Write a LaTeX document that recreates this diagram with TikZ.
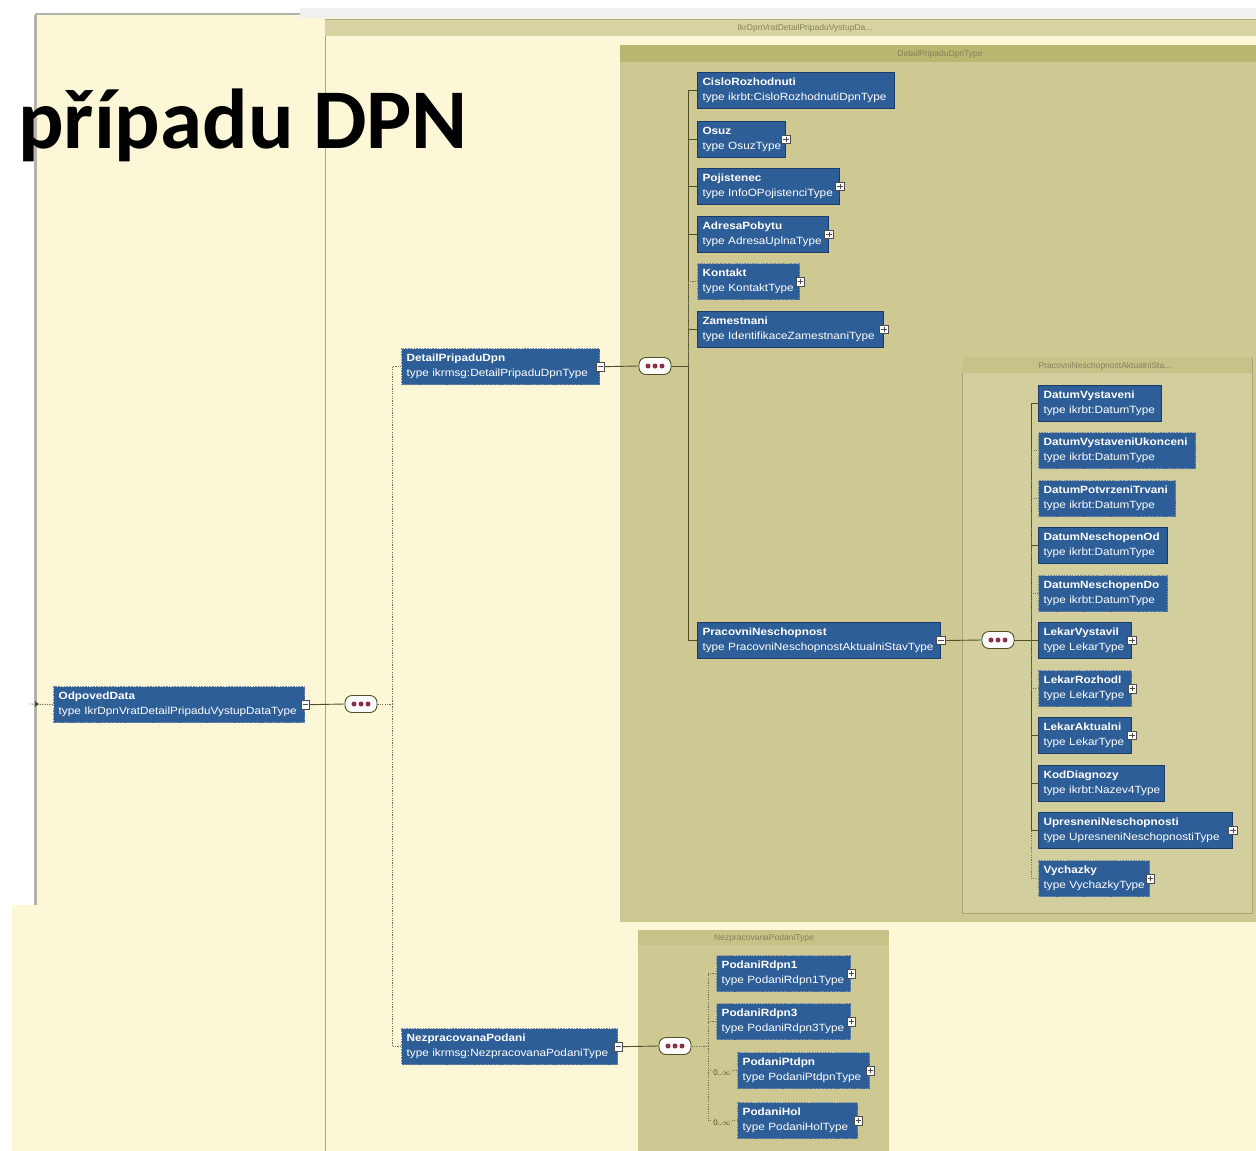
\documentclass[tikz,border=0pt]{standalone}
\usepackage{fontspec}
\setmainfont{Liberation Sans}
\newfontfamily\elfont[FakeStretch=1.12]{Liberation Sans}
\newfontfamily\titlefont{Carlito}
\definecolor{cream}{HTML}{FCF7D7}
\definecolor{olive}{HTML}{CEC993}
\definecolor{olivehd}{HTML}{B9B672}
\definecolor{outerhd}{HTML}{D7D3A2}
\definecolor{innerbg}{HTML}{D2CE9D}
\definecolor{innerhd}{HTML}{C6C288}
\definecolor{elblue}{HTML}{2E5E97}
\definecolor{eldark}{HTML}{1C3B68}
\definecolor{linec}{HTML}{4F4F2A}
\definecolor{hdtext}{HTML}{85825A}
\definecolor{dotred}{HTML}{8E2E44}
\definecolor{framegray}{HTML}{B4B4AC}
\tikzset{
  el/.style={rectangle, fill=elblue, draw=eldark, line width=1pt, text=white,
    font=\elfont\fontsize{10.5}{15}\selectfont, align=left, anchor=north west,
    minimum height=36pt, inner xsep=5pt, inner ysep=2pt},
  opt/.style={dash pattern=on 1.6pt off 1.1pt, draw=eldark!60!white, line width=1.3pt},
  plain/.style={},
  pmbase/.style={rectangle, draw=gray!60!black, fill=white, minimum size=8.5pt,
    inner sep=0pt, line width=0.6pt},
  pmminus/.style={pmbase, path picture={\draw[line width=0.8pt]
    ([xshift=1.6pt]path picture bounding box.west) -- ([xshift=-1.6pt]path picture bounding box.east);}},
  pmplus/.style={pmbase, path picture={\draw[line width=0.8pt]
    ([xshift=1.6pt]path picture bounding box.west) -- ([xshift=-1.6pt]path picture bounding box.east)
    ([yshift=1.6pt]path picture bounding box.south) -- ([yshift=-1.6pt]path picture bounding box.north);}},
  pill/.style={rectangle, rounded corners=7pt, draw=linec, fill=white, line width=0.9pt,
    minimum width=32pt, minimum height=17pt, inner sep=0pt,
    path picture={\foreach \dx in {-7,0,7}
      \fill[dotred] ([xshift=\dx pt]path picture bounding box.center) circle (2.5pt);}},
  conn/.style={draw=linec, line width=0.9pt},
  dconn/.style={draw=linec!80!white, line width=0.9pt, dash pattern=on 1.2pt off 1.2pt},
  hdtxt/.style={font=\fontsize{8.5}{9}\selectfont, text=hdtext, inner sep=0pt},
  card/.style={font=\fontsize{8}{9}\selectfont, text=linec, inner sep=0pt}
}
% name, x, y, width, title, type, style
\newcommand\elem[7]{%
  \pgfmathsetmacro\tw{#4-11}%
  \node[el,#7,text width=\tw pt] (#1) at (#2,#3) {\mbox{\bfseries #5}\\\mbox{#6}};}
\begin{document}
\begin{tikzpicture}[x=1pt,y=-1pt]
\useasboundingbox (0,0) rectangle (1256,1151);
\fill[white] (0,0) rectangle (1256,1151);
% background areas
\fill[cream] (35,15) rectangle (1256,1151);
\fill[cream] (12,905) rectangle (35,1151);
\fill[gray!12] (300,8) rectangle (1256,18);
\draw[framegray, line width=3pt] (35,15) -- (35,905);
\draw[framegray, line width=2pt] (35,14) -- (300,14);
% outer container
\draw[fill=cream, draw=outerhd!80!black, line width=0.8pt] (325,19) rectangle (1258,1153);
\fill[outerhd] (325.4,20) rectangle (1256,36);
\node[hdtxt] (hd1) at (805,28) {IkrDpnVratDetailPripaduVystupDa...};
% DetailPripaduDpnType container
\fill[olive] (620,45) rectangle (1256,922);
\fill[olivehd] (620,45) rectangle (1256,62);
\node[hdtxt] (hd2) at (940,54) {DetailPripaduDpnType};
% PracovniNeschopnost container
\draw[fill=innerbg, draw=innerhd!85!black, line width=0.6pt] (962,357) rectangle (1252,913);
\fill[innerhd] (962.3,357.3) rectangle (1251.7,373);
\node[hdtxt] (hd3) at (1105,366) {PracovniNeschopnostAktualniSta...};
% NezpracovanaPodaniType container
\fill[olive] (638,930) rectangle (889,1151);
\fill[innerhd] (638,930) rectangle (889,945);
\node[hdtxt] (hd4) at (764,938) {NezpracovanaPodaniType};

% elements
\elem{odp}{53}{686}{252}{OdpovedData}{type IkrDpnVratDetailPripaduVystupDataType}{opt}
\elem{det}{401}{348}{199}{DetailPripaduDpn}{type ikrmsg:DetailPripaduDpnType}{opt}
\elem{nez}{401}{1028}{217}{NezpracovanaPodani}{type ikrmsg:NezpracovanaPodaniType}{opt}

\elem{cis}{697}{72}{198}{CisloRozhodnuti}{type ikrbt:CisloRozhodnutiDpnType}{plain}
\elem{osu}{697}{121}{89}{Osuz}{type OsuzType}{plain}
\elem{poj}{697}{168}{143}{Pojistenec}{type InfoOPojistenciType}{plain}
\elem{adr}{697}{216}{132}{AdresaPobytu}{type AdresaUplnaType}{plain}
\elem{kon}{697}{263}{103}{Kontakt}{type KontaktType}{opt}
\elem{zam}{697}{311}{187}{Zamestnani}{type IdentifikaceZamestnaniType}{plain}
\elem{pra}{697}{622}{244}{PracovniNeschopnost}{type PracovniNeschopnostAktualniStavType}{plain}

\elem{dv}{1038}{385}{124}{DatumVystaveni}{type ikrbt:DatumType}{plain}
\elem{dvu}{1038}{432}{158}{DatumVystaveniUkonceni}{type ikrbt:DatumType}{opt}
\elem{dpt}{1038}{480}{138}{DatumPotvrzeniTrvani}{type ikrbt:DatumType}{opt}
\elem{dno}{1038}{527}{130}{DatumNeschopenOd}{type ikrbt:DatumType}{plain}
\elem{dnd}{1038}{575}{130}{DatumNeschopenDo}{type ikrbt:DatumType}{opt}
\elem{lv}{1038}{622}{94}{LekarVystavil}{type LekarType}{plain}
\elem{lr}{1038}{670}{94}{LekarRozhodl}{type LekarType}{opt}
\elem{la}{1038}{717}{94}{LekarAktualni}{type LekarType}{plain}
\elem{kd}{1038}{765}{127}{KodDiagnozy}{type ikrbt:Nazev4Type}{plain}
\elem{un}{1038}{812}{195}{UpresneniNeschopnosti}{type UpresneniNeschopnostiType}{plain}
\elem{vy}{1038}{860}{112}{Vychazky}{type VychazkyType}{opt}

\elem{pr1}{716}{955}{135}{PodaniRdpn1}{type PodaniRdpn1Type}{opt}
\elem{pr3}{716}{1003}{135}{PodaniRdpn3}{type PodaniRdpn3Type}{opt}
\elem{ppt}{737}{1052}{133}{PodaniPtdpn}{type PodaniPtdpnType}{opt}
\elem{pho}{737}{1102}{121}{PodaniHol}{type PodaniHolType}{opt}

% expand / collapse boxes
\foreach \n in {odp,det,nez,pra} \node[pmminus] (\n-pm) at (\n.east) {};
\foreach \n in {osu,poj,adr,kon,zam,lv,lr,la,un,vy,pr1,pr3,ppt,pho} \node[pmplus] (\n-pm) at (\n.east) {};

% compositors
\node[pill] (s1) at (361,704) {};
\node[pill] (s2) at (655,366) {};
\node[pill] (s3) at (998,640) {};
\node[pill] (s4) at (675,1046) {};

\coordinate (in0) at (30,704);
\coordinate (sp1) at (392,704);
\coordinate (sp2) at (688,366);
\coordinate (sp3) at (1031,640);
\coordinate (sp4) at (708,1046);

% connectors
\draw[dconn] (in0) -- (odp.west);
\fill[linec] (35,701) -- (39,704) -- (35,707) -- cycle;
\draw[conn] (odp-pm.east) -- (s1.west);
\draw[dconn] (s1.east) -- (sp1);
\draw[dconn] (sp1) |- (det.west);
\draw[dconn] (sp1) |- (nez.west);

\draw[conn] (det-pm.east) -- (s2.west);
\draw[conn] (s2.east) -- (sp2);
\foreach \n in {cis,osu,poj,adr,zam,pra} \draw[conn] (sp2) |- (\n.west);
\draw[dconn] (sp2) |- (kon.west);

\draw[conn] (pra-pm.east) -- (s3.west);
\draw[conn] (s3.east) -- (sp3);
\foreach \n in {dv,dno,lv,la,kd,un} \draw[conn] (sp3) |- (\n.west);
\foreach \n in {dvu,dpt,dnd,lr} \draw[dconn] (sp3) |- (\n.west);
\draw[dconn] (un.west -| sp3) |- (vy.west);

\draw[conn] (nez-pm.east) -- (s4.west);
\draw[dconn] (s4.east) -- (sp4);
\foreach \n in {pr1,pr3,ppt,pho} \draw[dconn] (sp4) |- (\n.west);
\node[card, fill=olive, inner sep=1pt] (c1) at (722,1073) {0..$\infty$};
\node[card, fill=olive, inner sep=1pt] (c2) at (722,1123) {0..$\infty$};

% title
\node[anchor=base west, inner sep=0pt, font=\titlefont\bfseries\fontsize{85}{90}\selectfont] (title) at (18,148) {případu DPN};
\end{tikzpicture}
\end{document}
